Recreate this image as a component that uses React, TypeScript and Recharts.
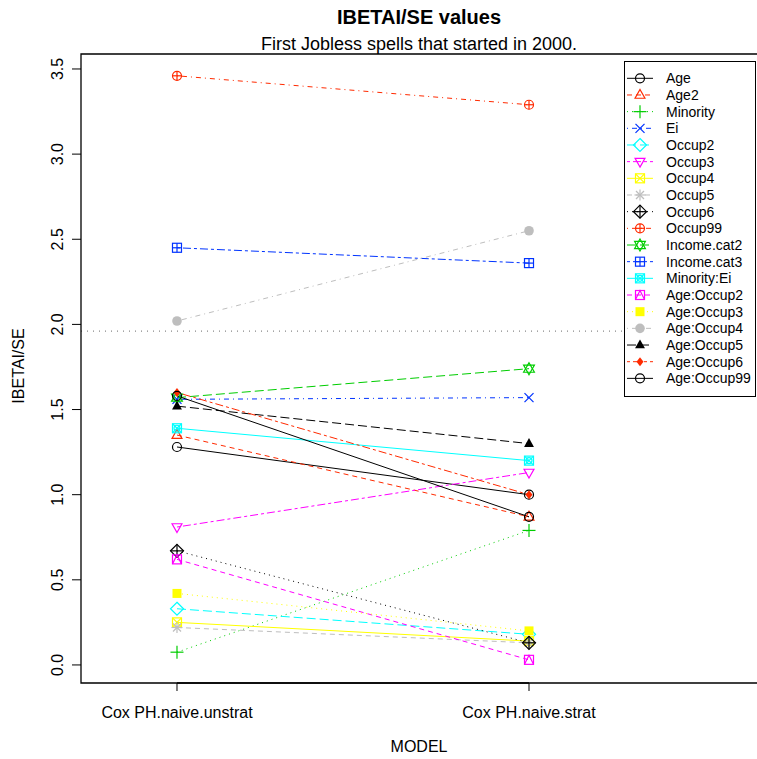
import React from "react";
import {
  LineChart,
  Line,
  XAxis,
  YAxis,
  ReferenceLine,
} from "recharts";

const models = ["Cox PH.naive.unstrat", "Cox PH.naive.strat"];

const variables = [
  "Age", "Age2", "Minority", "Ei", "Occup2", "Occup3", "Occup4", "Occup5",
  "Occup6", "Occup99", "Income.cat2", "Income.cat3", "Minority:Ei",
  "Age:Occup2", "Age:Occup3", "Age:Occup4", "Age:Occup5", "Age:Occup6",
  "Age:Occup99",
];

// |beta|/se per variable, one array per model
const unstrat = [1.28, 1.35, 0.075, 1.56, 0.33, 0.81, 0.25, 0.22, 0.67, 3.46, 1.57, 2.45, 1.39, 0.62, 0.42, 2.02, 1.52, 1.6, 1.58];
const strat = [1.0, 0.87, 0.79, 1.57, 0.18, 1.13, 0.14, 0.13, 0.13, 3.29, 1.74, 2.36, 1.2, 0.03, 0.2, 2.55, 1.3, 1.0, 0.87];

const yTicks = [0, 0.5, 1, 1.5, 2, 2.5, 3, 3.5];
const critical = 1.96;

// colour / lty / pch per series (R style)
const colors = [
  "#000000", "#FF2A00", "#00CD00", "#0033FF", "#00FFFF", "#FF00FF", "#FFFF00", "#BEBEBE",
  "#000000", "#FF2A00", "#00CD00", "#0033FF", "#00FFFF", "#FF00FF", "#FFFF00", "#BEBEBE",
  "#000000", "#FF2A00", "#000000",
];
const dashes = ["", "5 4", "1 4", "1 4 5 4", "9 4", "3 3 8 3"];

const data = models.map((m, i) => {
  const row: Record<string, number | string> = { x: i + 1, model: m };
  variables.forEach((v, j) => {
    row[v] = i === 0 ? unstrat[j] : strat[j];
  });
  return row;
});

const FONT = "'Liberation Sans', Arial, Helvetica, sans-serif";

function Marker({ pch, cx, cy, color }: { pch: number; cx: number; cy: number; color: string }) {
  const s = { stroke: color, strokeWidth: 1.2, fill: "none" };
  const r = 4.5;
  const tri = (up: boolean, k = 5.5) =>
    up
      ? `${cx},${cy - k} ${cx + k * 0.9},${cy + k * 0.6} ${cx - k * 0.9},${cy + k * 0.6}`
      : `${cx},${cy + k} ${cx + k * 0.9},${cy - k * 0.6} ${cx - k * 0.9},${cy - k * 0.6}`;
  const plus = (k: number) => (
    <>
      <line x1={cx - k} y1={cy} x2={cx + k} y2={cy} {...s} />
      <line x1={cx} y1={cy - k} x2={cx} y2={cy + k} {...s} />
    </>
  );
  const cross = (k: number) => (
    <>
      <line x1={cx - k} y1={cy - k} x2={cx + k} y2={cy + k} {...s} />
      <line x1={cx - k} y1={cy + k} x2={cx + k} y2={cy - k} {...s} />
    </>
  );
  const sq = <rect x={cx - 4.5} y={cy - 4.5} width={9} height={9} {...s} />;
  const diamond = (k: number) => (
    <polygon points={`${cx},${cy - k} ${cx + k},${cy} ${cx},${cy + k} ${cx - k},${cy}`} {...s} />
  );
  switch (pch) {
    case 1:
      return <circle cx={cx} cy={cy} r={r} {...s} />;
    case 2:
      return <polygon points={tri(true)} {...s} />;
    case 3:
      return <g>{plus(6.5)}</g>;
    case 4:
      return <g>{cross(4.5)}</g>;
    case 5:
      return diamond(6.5);
    case 6:
      return <polygon points={tri(false)} {...s} />;
    case 7:
      return <g>{sq}{cross(4.5)}</g>;
    case 8:
      return <g>{plus(5.5)}{cross(4)}</g>;
    case 9:
      return <g>{diamond(6.5)}{plus(6.5)}</g>;
    case 10:
      return <g><circle cx={cx} cy={cy} r={r} {...s} />{plus(r)}</g>;
    case 11:
      return <g><polygon points={tri(true, 6)} {...s} /><polygon points={tri(false, 6)} {...s} /></g>;
    case 12:
      return <g>{sq}{plus(4.5)}</g>;
    case 13:
      return <g>{sq}{cross(4.5)}<circle cx={cx} cy={cy} r={3} {...s} /></g>;
    case 14:
      return <g>{sq}<polyline points={`${cx - 4.5},${cy + 4.5} ${cx},${cy - 4.5} ${cx + 4.5},${cy + 4.5}`} {...s} /></g>;
    case 15:
      return <rect x={cx - 4.5} y={cy - 4.5} width={9} height={9} fill={color} />;
    case 16:
      return <circle cx={cx} cy={cy} r={4.8} fill={color} />;
    case 17:
      return <polygon points={tri(true)} fill={color} />;
    case 18:
      return <polygon points={`${cx},${cy - 4.5} ${cx + 3.5},${cy} ${cx},${cy + 4.5} ${cx - 3.5},${cy}`} fill={color} />;
    default:
      return <circle cx={cx} cy={cy} r={r} {...s} />;
  }
}

const pchOf = (j: number) => (j < 18 ? j + 1 : 1);

function YTick(props: any) {
  const { y, payload } = props;
  const cx = 57;
  return (
    <text x={cx} y={y} transform={`rotate(-90 ${cx} ${y})`} textAnchor="middle" dy="0.35em"
      fontSize={16} fontFamily={FONT} fill="#000">
      {payload.value.toFixed(1)}
    </text>
  );
}

function XTick(props: any) {
  const { x, payload } = props;
  return (
    <text x={x} y={718} textAnchor="middle" fontSize={16} fontFamily={FONT} fill="#000">
      {models[payload.value - 1]}
    </text>
  );
}

function LegendBox() {
  const rowH = 16.67;
  return (
    <svg width={132} height={336} style={{ display: "block" }}>
      <rect x={0.5} y={0.5} width={131} height={335} fill="#fff" stroke="#000" strokeWidth={1} />
      {variables.map((v, j) => {
        const y = 17.3 + j * rowH;
        const color = colors[j];
        return (
          <g key={v}>
            <line x1={3} x2={29} y1={y} y2={y} stroke={color} strokeWidth={1}
              strokeDasharray={dashes[j % 6] || undefined} />
            <Marker pch={pchOf(j)} cx={16} cy={y} color={color} />
            <text x={42} y={y} dy="0.36em" fontSize={14} fontFamily={FONT} fill="#000">{v}</text>
          </g>
        );
      })}
    </svg>
  );
}

export default function App() {
  return (
    <div style={{ position: "absolute", left: 0, top: 0, width: 757, height: 759, background: "#fff" }}>
      <LineChart width={757} height={759} data={data}
        margin={{ top: 54, right: 0, bottom: 36, left: 41 }}>
        <XAxis dataKey="x" type="number" domain={[0.7273, 2.6477]} ticks={[1, 2]}
          allowDataOverflow axisLine={false} tickLine={{ stroke: "#000" }} tickSize={8}
          height={40} tick={<XTick />} />
        <YAxis type="number" domain={[-0.106, 3.588]} ticks={yTicks} allowDataOverflow
          axisLine={false} tickLine={{ stroke: "#000" }} tickSize={9} tickMargin={0}
          width={40} tick={<YTick />} />
        <ReferenceLine y={critical} stroke="#888" strokeDasharray="1 5" strokeWidth={1.2} />
        {variables.map((v, j) => {
          const color = colors[j];
          return (
            <Line key={v} dataKey={v} stroke={color} strokeWidth={1}
              strokeDasharray={dashes[j % 6] || undefined}
              isAnimationActive={false} activeDot={false}
              dot={(p: any) => (
                <Marker key={`${v}-${p.index}`} pch={pchOf(j)} cx={p.cx} cy={p.cy} color={color} />
              )} />
          );
        })}
      </LineChart>
      <svg width={757} height={759} style={{ position: "absolute", left: 0, top: 0, pointerEvents: "none" }}>
        <polyline points="757,54 81,54 81,683 757,683" fill="none" stroke="#000" strokeWidth={1.3} />
        <line x1={177} x2={529} y1={683} y2={683} stroke="#000" strokeWidth={1.3} />
        <text x={419} y={24} textAnchor="middle" fontSize={20} fontWeight="bold" fontFamily={FONT}>IBETAI/SE values</text>
        <text x={419} y={50} textAnchor="middle" fontSize={18} fontFamily={FONT}>First Jobless spells that started in 2000.</text>
        <text x={419} y={752} textAnchor="middle" fontSize={16} fontFamily={FONT}>MODEL</text>
        <text x={18} y={366} transform="rotate(-90 18 366)" textAnchor="middle" dy="0.35em" fontSize={16} fontFamily={FONT}>IBETAI/SE</text>
      </svg>
      <div style={{ position: "absolute", left: 624, top: 61 }}>
        <LegendBox />
      </div>
    </div>
  );
}
